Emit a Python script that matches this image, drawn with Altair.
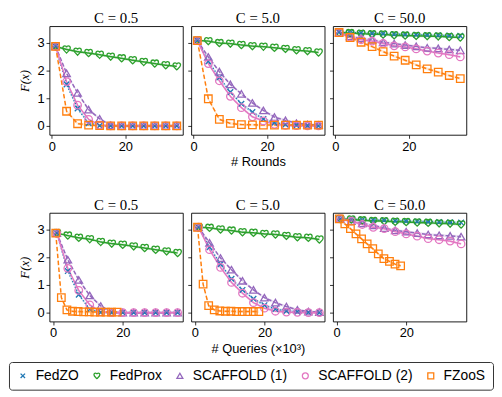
import altair as alt
import pandas as pd

series = ["FedZO", "FedProx", "SCAFFOLD (1)", "SCAFFOLD (2)", "FZooS"]
colors = ["#1f77b4", "#2ca02c", "#9467bd", "#e377c2", "#ff7f0e"]
c_labels = ["C = 0.5", "C = 5.0", "C = 50.0"]

rounds_x = [1, 4, 7, 10, 13, 16, 19, 22, 25, 28, 31, 34]
queries_x = [1.05, 4.2, 7.35, 10.5, 13.65, 16.8, 19.95, 23.1, 26.25, 29.4, 32.55, 35.7]
queries_x_fzoos = [0.75, 2.35, 3.95, 5.55, 7.15, 8.75, 10.35, 11.95, 13.55, 15.15, 16.75, 18.35]

# F(x) vs rounds
rounds_c05 = {
    "FedZO":        [2.87, 1.50, 0.63, 0.10, 0.01, 0.00, 0.00, 0.00, 0.00, 0.00, 0.00, 0.00],
    "FedProx":      [2.87, 2.76, 2.68, 2.63, 2.57, 2.50, 2.44, 2.37, 2.31, 2.25, 2.19, 2.15],
    "SCAFFOLD (1)": [2.87, 1.90, 1.19, 0.59, 0.26, 0.02, 0.00, 0.00, 0.00, 0.00, 0.00, 0.00],
    "SCAFFOLD (2)": [2.87, 1.60, 0.75, 0.24, 0.03, 0.00, 0.00, 0.00, 0.00, 0.00, 0.00, 0.00],
    "FZooS":        [2.87, 0.53, 0.08, 0.03, 0.01, 0.00, 0.00, 0.00, 0.00, 0.00, 0.00, 0.00],
}
rounds_c5 = {
    "FedZO":        [3.08, 2.33, 1.75, 1.22, 0.80, 0.50, 0.25, 0.12, 0.05, 0.02, 0.01, 0.00],
    "FedProx":      [3.08, 3.06, 2.99, 2.97, 2.92, 2.88, 2.86, 2.82, 2.78, 2.73, 2.70, 2.65],
    "SCAFFOLD (1)": [3.08, 2.49, 1.96, 1.50, 1.16, 0.83, 0.56, 0.32, 0.20, 0.10, 0.05, 0.03],
    "SCAFFOLD (2)": [3.08, 2.25, 1.63, 1.07, 0.66, 0.33, 0.18, 0.06, 0.02, 0.01, 0.00, 0.00],
    "FZooS":        [3.08, 0.98, 0.24, 0.09, 0.05, 0.04, 0.03, 0.03, 0.03, 0.03, 0.03, 0.03],
}
rounds_c50 = {
    "FedZO":        [3.38, 3.37, 3.36, 3.34, 3.33, 3.31, 3.30, 3.29, 3.28, 3.27, 3.26, 3.25],
    "FedProx":      [3.37, 3.35, 3.33, 3.31, 3.30, 3.27, 3.26, 3.25, 3.24, 3.23, 3.21, 3.19],
    "SCAFFOLD (1)": [3.37, 3.23, 3.16, 3.11, 3.02, 2.97, 2.92, 2.87, 2.82, 2.80, 2.76, 2.73],
    "SCAFFOLD (2)": [3.37, 3.20, 3.11, 3.06, 2.98, 2.89, 2.85, 2.78, 2.70, 2.63, 2.57, 2.49],
    "FZooS":        [3.37, 3.19, 3.02, 2.86, 2.68, 2.52, 2.37, 2.20, 2.06, 1.94, 1.82, 1.71],
}

# F(x) vs queries (x10^3)
queries_c05 = {
    "FedZO":        [2.87, 1.50, 0.65, 0.12, 0.01, 0.00, 0.00, 0.00, 0.00, 0.00, 0.00, 0.00],
    "FedProx":      [2.87, 2.78, 2.70, 2.65, 2.55, 2.49, 2.45, 2.39, 2.33, 2.27, 2.21, 2.15],
    "SCAFFOLD (1)": [2.87, 1.91, 1.18, 0.62, 0.24, 0.02, 0.00, 0.00, 0.00, 0.00, 0.00, 0.00],
    "SCAFFOLD (2)": [2.87, 1.60, 0.80, 0.28, 0.03, 0.00, 0.00, 0.00, 0.00, 0.00, 0.00, 0.00],
    "FZooS":        [2.87, 0.54, 0.10, 0.05, 0.04, 0.03, 0.03, 0.02, 0.02, 0.02, 0.02, 0.02],
}
queries_c5 = {
    "FedZO":        [3.08, 2.36, 1.75, 1.22, 0.82, 0.50, 0.27, 0.13, 0.06, 0.03, 0.01, 0.00],
    "FedProx":      [3.08, 3.06, 3.00, 2.96, 2.90, 2.88, 2.84, 2.82, 2.77, 2.72, 2.70, 2.64],
    "SCAFFOLD (1)": [3.08, 2.52, 1.97, 1.55, 1.15, 0.82, 0.54, 0.36, 0.22, 0.10, 0.04, 0.02],
    "SCAFFOLD (2)": [3.08, 2.27, 1.63, 1.09, 0.70, 0.36, 0.16, 0.05, 0.02, 0.01, 0.00, 0.00],
    "FZooS":        [3.08, 1.03, 0.25, 0.10, 0.06, 0.05, 0.05, 0.04, 0.04, 0.04, 0.04, 0.04],
}
queries_c50 = {
    "FedZO":        [3.38, 3.37, 3.35, 3.34, 3.33, 3.31, 3.30, 3.29, 3.28, 3.27, 3.26, 3.25],
    "FedProx":      [3.38, 3.36, 3.33, 3.31, 3.30, 3.28, 3.27, 3.25, 3.24, 3.22, 3.21, 3.18],
    "SCAFFOLD (1)": [3.38, 3.30, 3.22, 3.15, 3.05, 2.97, 2.92, 2.87, 2.82, 2.79, 2.77, 2.74],
    "SCAFFOLD (2)": [3.38, 3.30, 3.18, 3.08, 3.03, 2.92, 2.84, 2.76, 2.67, 2.63, 2.58, 2.48],
    "FZooS":        [3.38, 3.20, 3.03, 2.84, 2.66, 2.48, 2.31, 2.12, 1.95, 1.85, 1.75, 1.69],
}

records = []
for row, xs_default, panels in [
    ("rounds", rounds_x, [rounds_c05, rounds_c5, rounds_c50]),
    ("queries", queries_x, [queries_c05, queries_c5, queries_c50]),
]:
    for ci, panel_vals in enumerate(panels):
        for si, s in enumerate(series):
            xs = queries_x_fzoos if (row == "queries" and s == "FZooS") else xs_default
            for x, y in zip(xs, panel_vals[s]):
                records.append({"row": row, "c": ci, "series": s, "lkey": "line " + s,
                                "order": si, "x": x, "y": y})
df = pd.DataFrame(records)

cross_path = "M-0.75,-0.75L0.75,0.75M-0.75,0.75L0.75,-0.75"
heart_path = ("M0,0.95C-0.35,0.6 -1,0.15 -1,-0.35C-1,-0.75 -0.7,-0.95 -0.45,-0.95"
              "C-0.2,-0.95 -0.05,-0.75 0,-0.55C0.05,-0.75 0.2,-0.95 0.45,-0.95"
              "C0.7,-0.95 1,-0.75 1,-0.35C1,0.15 0.35,0.6 0,0.95Z")
shapes = [cross_path, heart_path, "triangle-up", "circle", "square"]
dashes = [[1.2, 2], [1, 0], [4, 2], [1, 0], [4.5, 2.5]]
line_keys = ["line " + s for s in series]

color_scale = alt.Scale(domain=series, range=colors)
shape_scale = alt.Scale(domain=series, range=shapes)
lcolor_scale = alt.Scale(domain=line_keys, range=colors)
dash_scale = alt.Scale(domain=line_keys, range=dashes)
legend = alt.Legend(orient="none", direction="horizontal", columns=5, title=None,
                    legendX=-41, legendY=340)


def panel(row, ci):
    first = ci == 0
    mid = ci == 1
    xdom = [-0.65, 35.65] if row == "rounds" else [-1.05, 37.2]
    xtitle = ("# Rounds" if row == "rounds" else "# Queries (×10³)") if mid else None
    base = alt.Chart(df).transform_filter(
        (alt.datum.row == row) & (alt.datum.c == ci)
    )
    x = alt.X("x:Q", scale=alt.Scale(domain=xdom, nice=False, zero=False),
              axis=alt.Axis(values=[0, 20], title=xtitle))
    if first:
        yaxis = alt.Axis(values=[0, 1, 2, 3], title="F(x)")
    else:
        yaxis = alt.Axis(values=[0, 1, 2, 3], labels=False, title=None)
    yscale = alt.Scale(domain=[-0.32, 3.6], nice=False, zero=False)
    y = alt.Y("y:Q", scale=yscale, axis=yaxis)

    band = base.transform_calculate(
        lo="datum.y - 0.05", hi="datum.y + 0.05"
    ).mark_area(opacity=0.18).encode(
        x=x,
        y=alt.Y("lo:Q", scale=yscale, axis=yaxis),
        y2="hi:Q",
        fill=alt.Fill("lkey:N", scale=lcolor_scale, legend=None),
    )
    line = base.mark_line(strokeWidth=1.5).encode(
        x=x, y=y,
        stroke=alt.Stroke("lkey:N", scale=lcolor_scale, legend=None),
        strokeDash=alt.StrokeDash("lkey:N", scale=dash_scale, legend=None),
        order="x:Q",
    )
    pts = base.mark_point(filled=False, strokeWidth=1.3, opacity=1, size=58).encode(
        x=x, y=y,
        color=alt.Color("series:N", scale=color_scale, legend=legend),
        shape=alt.Shape("series:N", scale=shape_scale, legend=legend),
        order=alt.Order("order:Q"),
    )
    return alt.layer(band, line, pts).properties(
        width=135, height=110,
        title=alt.TitleParams(c_labels[ci], font="Liberation Serif", fontSize=15,
                              fontWeight="normal", offset=0, color="black"),
    )


row1 = alt.hconcat(*[panel("rounds", i) for i in range(3)], spacing=8.5, bounds="flush")
row2 = alt.hconcat(*[panel("queries", i) for i in range(3)], spacing=8.5, bounds="flush")

chart = alt.vconcat(row1, row2, spacing=189, bounds="flush", padding=0).resolve_scale(
    x="independent", y="independent", color="shared", shape="shared",
    stroke="shared", fill="shared", strokeDash="shared"
).configure_view(
    stroke="black", strokeWidth=0.9
).configure_axis(
    grid=False, domain=False, ticks=True, tickSize=3.5, tickWidth=0.8, tickColor="black",
    labelFont="Liberation Sans", labelFontSize=13, labelColor="black", labelPadding=2,
    titleFont="Liberation Sans", titleFontSize=13, titleFontWeight="normal", titleColor="black",
).configure_axisY(
    titleFont="Liberation Serif", titleFontStyle="italic", titleFontSize=13, titlePadding=6,
).configure_axisX(
    titlePadding=3,
).configure_legend(
    labelFont="Liberation Sans", labelFontSize=14, labelColor="black",
    symbolSize=36, symbolStrokeWidth=1.3, symbolFillColor="transparent",
    strokeColor="#333", fillColor="white", padding=7, cornerRadius=3,
    columnPadding=11, labelOffset=6,
)

chart.save("out.html", embed_options={"renderer": "svg", "actions": False})
